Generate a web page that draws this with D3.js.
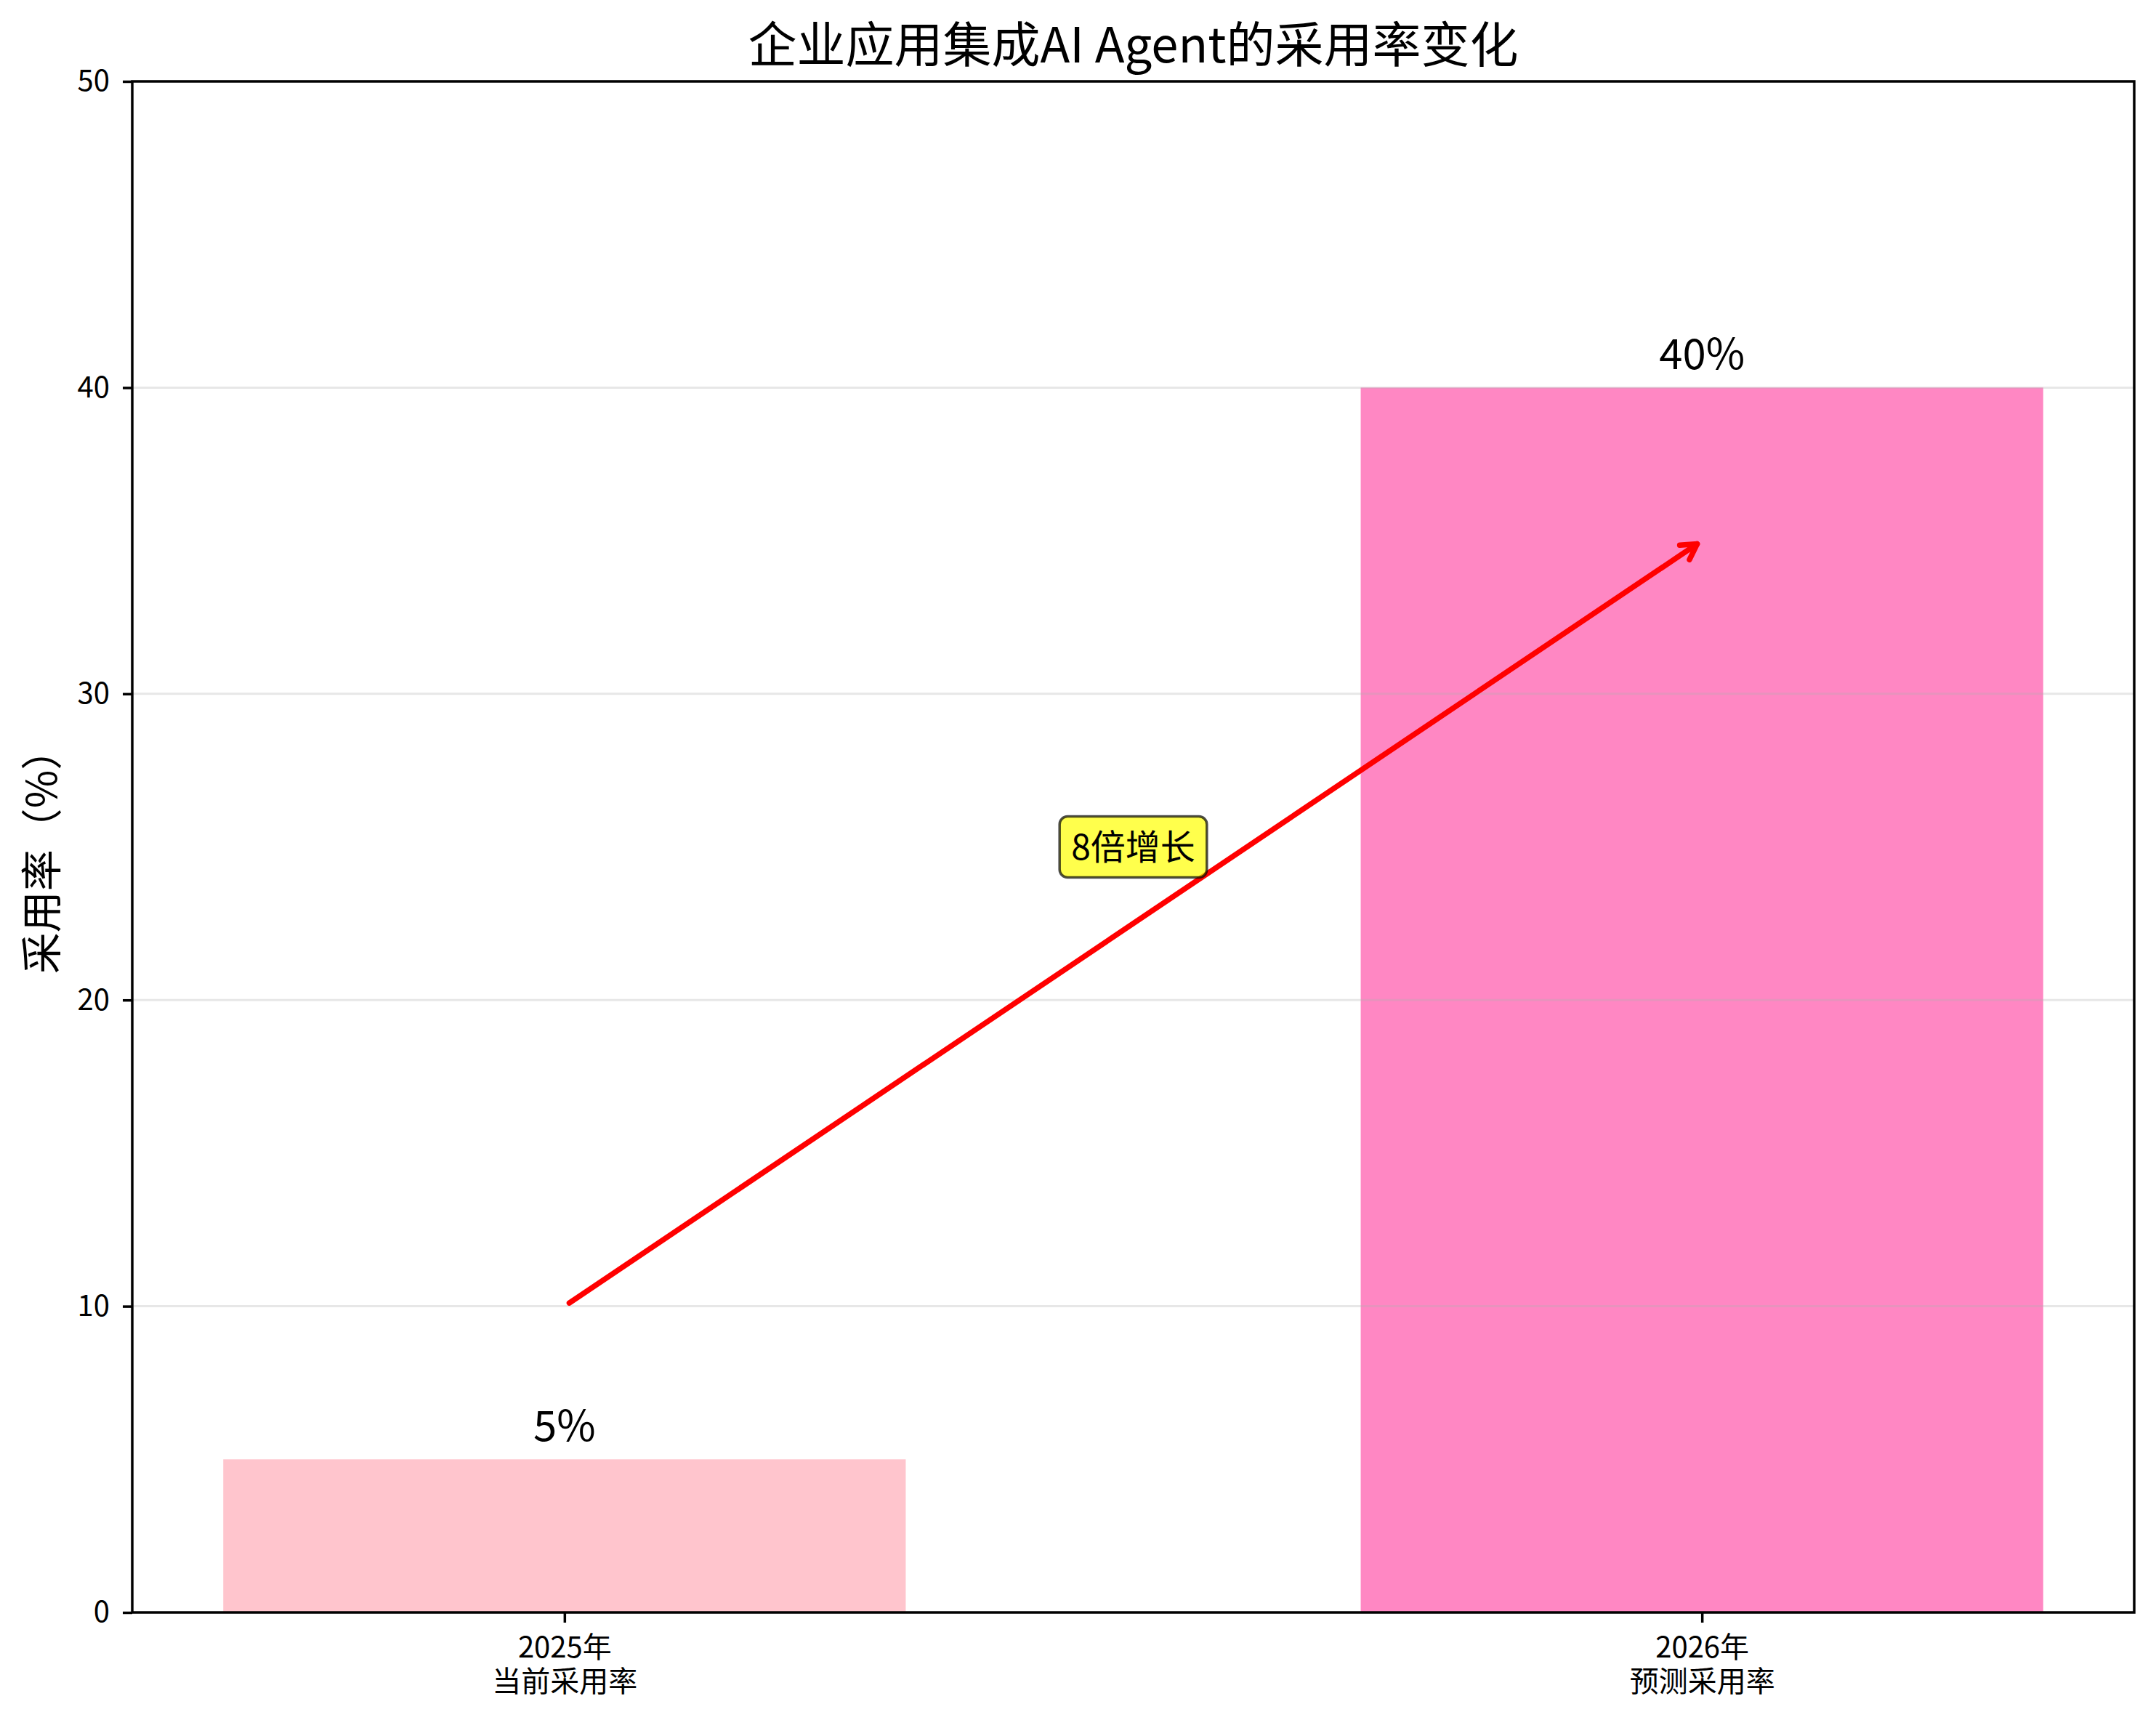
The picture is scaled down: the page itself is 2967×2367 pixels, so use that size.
<!DOCTYPE html>
<html>
<head>
<meta charset="utf-8">
<script src="https://cdn.jsdelivr.net/npm/d3@7/dist/d3.min.js"></script>
<style>
  html, body { margin: 0; padding: 0; background: #ffffff; }
  svg { display: block; }
  text { font-family: "Noto Sans CJK SC", "Noto Sans", sans-serif; fill: #000; }
</style>
</head>
<body>
<script>
// ---- data ----
const categories = ["2025年\n当前采用率", "2026年\n预测采用率"];
const values = [5, 40];
const valueLabels = ["5%", "40%"];
const barColors = ["#FFB6C1", "#FF69B4"];
const yTicks = [0, 10, 20, 30, 40, 50];
const yDomain = [0, 50];
const arrowFrom = { cat: 0, value: 10 };
const arrowTo = { cat: 1, value: 35 };
const annotation = { text: "8倍增长", pos: 0.5, value: 25 };
const titleText = "企业应用集成AI Agent的采用率变化";
const yLabelText = "采用率（%）";

// ---- layout ----
const W = 2967, H = 2367;
const m = { left: 182, right: 30, top: 112, bottom: 148 };
const iw = W - m.left - m.right, ih = H - m.top - m.bottom;

const svg = d3.select("body").append("svg").attr("width", W).attr("height", H);
svg.append("rect").attr("width", W).attr("height", H).attr("fill", "#fff");
const g = svg.append("g").attr("transform", `translate(${m.left},${m.top})`);

const x = d3.scaleBand().domain(d3.range(categories.length)).range([0, iw])
  .paddingInner(0.4).paddingOuter(0.08);
const y = d3.scaleLinear().domain(yDomain).range([ih, 0]);
const cx = i => x(i) + x.bandwidth() / 2;

// bars
g.selectAll("rect.bar").data(values).join("rect").attr("class", "bar")
  .attr("x", (d, i) => x(i)).attr("width", x.bandwidth())
  .attr("y", d => y(d)).attr("height", d => y(0) - y(d))
  .attr("fill", (d, i) => barColors[i]).attr("fill-opacity", 0.8);

// grid (above bars, as matplotlib draws it)
g.selectAll("line.grid").data(yTicks.filter(t => t > yDomain[0] && t < yDomain[1])).join("line")
  .attr("class", "grid").attr("x1", 0).attr("x2", iw)
  .attr("y1", d => y(d)).attr("y2", d => y(d))
  .attr("stroke", "#b0b0b0").attr("stroke-opacity", 0.3).attr("stroke-width", 3);

// value labels
g.selectAll("text.val").data(values).join("text").attr("class", "val")
  .attr("x", (d, i) => cx(i)).attr("y", d => y(d) - 25)
  .attr("text-anchor", "middle").attr("font-size", 58)
  .text((d, i) => valueLabels[i]);

// y axis
const yAxis = g.append("g").call(d3.axisLeft(y).tickValues(yTicks).tickSize(13).tickPadding(18));
yAxis.select(".domain").remove();
yAxis.selectAll(".tick line").attr("stroke", "#000").attr("stroke-width", 3.5);
yAxis.selectAll(".tick text").attr("font-size", 40).attr("font-family", "Noto Sans CJK SC").attr("fill", "#000");

// x axis
const xAxis = g.append("g").attr("transform", `translate(0,${ih})`)
  .call(d3.axisBottom(d3.scaleLinear().domain([0, 1]).range([cx(0), cx(1)]))
    .tickValues(d3.range(categories.length)).tickSize(14).tickFormat(""));
xAxis.select(".domain").remove();
xAxis.selectAll(".tick line").attr("stroke", "#000").attr("stroke-width", 3.5);
xAxis.selectAll(".tick").each(function (d) {
  const lines = categories[d].split("\n");
  lines.forEach((ln, k) => d3.select(this).append("text").attr("text-anchor", "middle")
    .attr("font-size", 40).attr("font-family", "Noto Sans CJK SC").attr("fill", "#000")
    .attr("x", 0).attr("y", 62 + k * 47).text(ln));
});

// spines
g.append("rect").attr("x", 0).attr("y", 0).attr("width", iw).attr("height", ih)
  .attr("fill", "none").attr("stroke", "#000").attr("stroke-width", 3.5);

// arrow
const x0 = cx(arrowFrom.cat), y0 = y(arrowFrom.value);
const x1 = cx(arrowTo.cat), y1 = y(arrowTo.value);
const len = Math.hypot(x1 - x0, y1 - y0);
const ux = (x1 - x0) / len, uy = (y1 - y0) / len;
const shrink = 8;
const sx = x0 + ux * shrink, sy = y0 + uy * shrink;
const ex = x1 - ux * shrink, ey = y1 - uy * shrink;
g.append("line").attr("x1", sx).attr("y1", sy).attr("x2", ex).attr("y2", ey)
  .attr("stroke", "#ff0000").attr("stroke-width", 7.5).attr("stroke-linecap", "round");
const ang = Math.atan2(uy, ux), hl = 24, ha = 30 * Math.PI / 180;
const p1 = [ex - hl * Math.cos(ang - ha), ey - hl * Math.sin(ang - ha)];
const p2 = [ex - hl * Math.cos(ang + ha), ey - hl * Math.sin(ang + ha)];
g.append("path").attr("d", `M${p1[0]},${p1[1]}L${ex},${ey}L${p2[0]},${p2[1]}`)
  .attr("fill", "none").attr("stroke", "#ff0000").attr("stroke-width", 7.5)
  .attr("stroke-linecap", "round").attr("stroke-linejoin", "round");

// annotation box
const axPos = d3.scaleLinear().domain([0, 1]).range([cx(0), cx(1)]);
const ann = g.append("g").attr("transform", `translate(${axPos(annotation.pos)},${y(annotation.value)})`);
const annText = ann.append("text").attr("text-anchor", "middle").attr("y", 17)
  .attr("font-size", 48).text(annotation.text);
const bb = annText.node().getBBox();
const padX = 16, bw = bb.width + 2 * padX, bh = 84;
ann.insert("rect", "text").attr("x", -bw / 2).attr("y", -bh / 2).attr("width", bw).attr("height", bh)
  .attr("rx", 11).attr("ry", 11)
  .attr("fill", "#ffff00").attr("fill-opacity", 0.7)
  .attr("stroke", "#000").attr("stroke-opacity", 0.7).attr("stroke-width", 3.5);

// title
svg.append("text").attr("x", m.left + iw / 2).attr("y", 86).attr("text-anchor", "middle")
  .attr("font-size", 67).text(titleText);

// y label
svg.append("text").attr("transform", `translate(78,${m.top + ih / 2 + 6}) rotate(-90)`)
  .attr("text-anchor", "middle").attr("font-size", 57).text(yLabelText);
</script>
</body>
</html>
